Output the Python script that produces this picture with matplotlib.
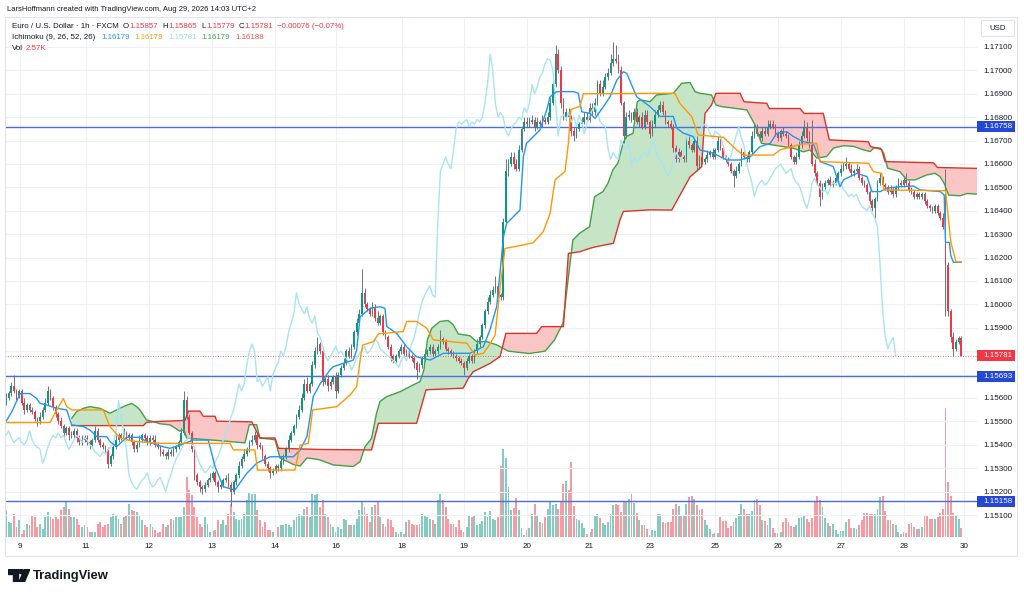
#!/usr/bin/env python3
"""EUR/USD 1h candles with Ichimoku (9, 26, 52, 26) and volume, TradingView look."""

import numpy as np
import matplotlib
matplotlib.use("Agg")
import matplotlib.pyplot as plt
from matplotlib.patches import Rectangle, Polygon, Circle
from matplotlib.ticker import FormatStrFormatter

plt.rcParams["font.family"] = ["Liberation Sans", "DejaVu Sans"]

# prices are kept as pips above 1.1500 (1 pip = 0.0001), one value per hourly bar
BASE = 1.15
PIP = 0.0001

first_open = 58
close_pips = [
    60, 62, 65, 63, 61, 63, 58, 55, 57, 55, 54, 51, 50, 52, 55, 58, 63, 60, 56, 53, 50, 48, 45, 47, 44,
    44, 46, 43, 41, 42, 43, 41, 40, 42, 46, 42, 40, 39, 38, 32, 35, 39, 42, 44, 43, 45, 43, 44, 41, 38,
    40, 42, 44, 43, 41, 43, 42, 40, 39, 37, 36, 35, 37, 36, 38, 39, 41, 45, 59, 52, 45, 38, 27, 24, 22,
    21, 23, 25, 26, 28, 24, 22, 23, 25, 26, 23, 20, 24, 27, 31, 34, 36, 38, 41, 42, 44, 40, 39, 35, 32,
    30, 28, 29, 31, 30, 33, 35, 38, 42, 45, 48, 52, 55, 60, 66, 63, 66, 74, 80, 83, 80, 67, 68, 65, 67,
    69, 63, 70, 73, 75, 80, 78, 82, 88, 92, 96, 105, 100, 98, 96, 99, 94, 92, 95, 88, 86, 82, 78, 76, 78,
    80, 82, 79, 80, 78, 77, 75, 72, 74, 77, 79, 80, 82, 79, 80, 82, 85, 84, 81, 80, 79, 78, 77, 76, 75,
    73, 76, 78, 76, 80, 83, 86, 91, 97, 101, 104, 106, 108, 104, 103, 135, 157, 160, 163, 160, 158, 166, 175, 178, 177,
    178, 179, 176, 178, 177, 179, 178, 180, 186, 194, 207, 200, 186, 180, 182, 180, 174, 172, 175, 177, 178, 180, 179, 184, 182,
    186, 194, 190, 193, 197, 199, 203, 205, 204, 200, 186, 172, 180, 181, 179, 182, 178, 180, 176, 181, 178, 173, 177, 181, 183,
    185, 182, 178, 177, 176, 167, 162, 165, 163, 162, 170, 168, 166, 170, 159, 163, 161, 162, 164, 165, 163, 166, 170, 167, 163,
    162, 160, 157, 155, 157, 160, 165, 163, 162, 165, 172, 175, 173, 171, 174, 173, 176, 177, 176, 173, 171, 174, 173, 172, 168,
    163, 161, 163, 168, 172, 176, 171, 168, 160, 156, 152, 146, 150, 152, 153, 151, 152, 154, 156, 158, 159, 160, 158, 156, 157,
    158, 154, 152, 151, 148, 144, 141, 145, 152, 154, 151, 150, 148, 149, 147, 150, 152, 151, 153, 152, 149, 148, 146, 147, 146,
    147, 144, 142, 141, 140, 142, 139, 137, 133, 117, 97, 86, 81, 84, 85.7, 78.1,
]
# wick length above / below the candle body, pips
wick_up = [
    2, 1, 2, 5, 1, 1, 1, 2, 1, 1, 1, 1, 1, 2, 1, 2, 2, 1, 1, 1, 1, 2, 1, 1, 1,
    2, 1, 1, 1, 2, 1, 1, 1, 1, 2, 1, 1, 1, 1, 1, 1, 1, 2, 1, 1, 2, 1, 1, 1, 1,
    1, 2, 1, 1, 1, 1, 1, 2, 1, 1, 1, 1, 1, 1, 1, 1, 1, 2, 4, 2, 1, 1, 1, 1, 1,
    1, 1, 1, 2, 1, 1, 1, 1, 1, 1, 2, 1, 1, 1, 2, 1, 2, 1, 1, 2, 2, 1, 1, 1, 1,
    1, 1, 1, 1, 1, 2, 1, 1, 2, 1, 1, 1, 2, 2, 2, 3, 1, 2, 2, 3, 1, 2, 1, 2, 1,
    1, 2, 1, 1, 2, 1, 2, 1, 1, 2, 2, 10, 2, 1, 1, 2, 1, 3, 1, 1, 1, 1, 1, 1, 1,
    1, 1, 1, 1, 1, 1, 1, 1, 1, 1, 2, 1, 1, 1, 1, 1, 4, 1, 1, 1, 1, 1, 1, 1, 1,
    1, 1, 1, 1, 1, 2, 1, 1, 1, 2, 2, 2, 4, 1, 1, 2, 5, 2, 2, 2, 2, 2, 1, 2, 2,
    2, 2, 1, 2, 1, 2, 1, 2, 2, 2, 4, 2, 2, 2, 2, 2, 1, 2, 2, 1, 2, 2, 2, 2, 2,
    2, 2, 2, 3, 2, 2, 4, 7, 6, 3, 2, 1, 2, 2, 1, 2, 2, 1, 2, 2, 2, 1, 2, 2, 2,
    2, 2, 1, 1, 2, 1, 1, 2, 1, 1, 2, 2, 1, 2, 2, 1, 2, 1, 2, 1, 2, 1, 2, 1, 1,
    1, 1, 1, 1, 2, 1, 2, 1, 1, 1, 2, 2, 2, 1, 2, 2, 3, 2, 2, 1, 1, 1, 2, 1, 1,
    1, 1, 2, 2, 2, 3, 2, 3, 11, 2, 1, 1, 2, 1, 1, 2, 1, 1, 1, 2, 2, 3, 1, 2, 1,
    2, 1, 1, 1, 1, 1, 1, 1, 1, 2, 1, 1, 1, 2, 1, 1, 2, 1, 2, 3, 1, 1, 1, 1, 1,
    1, 1, 1, 1, 1, 1, 1, 1, 2, 25, 1, 1, 2, 1, 1, 0.8,
]
wick_dn = [
    1, 1, 1, 1, 2, 1, 1, 2, 1, 1, 1, 1, 2, 1, 1, 1, 1, 1, 1, 1, 1, 1, 2, 1, 2,
    1, 1, 2, 1, 1, 1, 1, 2, 1, 1, 1, 1, 1, 1, 2, 1, 1, 1, 1, 1, 1, 1, 1, 1, 1,
    1, 1, 1, 1, 1, 1, 1, 1, 1, 2, 1, 1, 1, 1, 1, 1, 1, 1, 1, 1, 1, 1, 2, 1, 2,
    2, 1, 1, 1, 1, 1, 2, 1, 1, 1, 1, 6, 1, 1, 1, 1, 1, 1, 1, 1, 1, 2, 1, 1, 1,
    1, 2, 1, 1, 1, 1, 1, 1, 1, 1, 1, 1, 1, 1, 1, 1, 1, 1, 1, 1, 1, 2, 1, 2, 1,
    1, 3, 1, 1, 1, 1, 1, 1, 1, 1, 1, 1, 1, 1, 1, 1, 1, 1, 1, 1, 1, 1, 2, 1, 1,
    1, 1, 1, 1, 1, 1, 2, 4, 1, 1, 1, 1, 1, 1, 1, 1, 1, 1, 1, 1, 1, 1, 1, 1, 1,
    3, 1, 1, 1, 1, 1, 1, 1, 1, 1, 1, 1, 1, 1, 1, 1, 1, 2, 1, 2, 1, 1, 1, 1, 1,
    1, 1, 2, 1, 1, 1, 1, 1, 1, 1, 1, 1, 2, 1, 1, 1, 2, 2, 1, 1, 1, 1, 1, 1, 1,
    1, 1, 1, 1, 1, 1, 1, 1, 1, 1, 1, 3, 1, 1, 1, 1, 1, 2, 1, 1, 1, 2, 1, 1, 1,
    1, 1, 1, 1, 1, 2, 1, 1, 1, 1, 1, 1, 1, 1, 2, 1, 1, 1, 1, 1, 1, 1, 1, 1, 1,
    1, 1, 1, 5, 1, 1, 1, 1, 1, 1, 1, 1, 1, 1, 1, 1, 1, 1, 1, 1, 1, 1, 1, 1, 1,
    1, 1, 1, 1, 1, 1, 1, 1, 1, 1, 1, 4, 1, 1, 1, 1, 1, 1, 1, 1, 1, 1, 1, 1, 1,
    1, 1, 1, 1, 1, 1, 1, 4, 1, 1, 1, 1, 1, 1, 1, 1, 1, 1, 1, 1, 1, 1, 1, 1, 1,
    1, 1, 1, 1, 1, 1, 1, 1, 1, 22, 2, 2, 3, 1, 1, 0.2,
]
volume = [
    27, 15, 14, 23, 10, 17, 3, 7, 13, 12, 22, 20, 10, 13, 8, 20, 25, 20, 18, 20, 18, 27, 30, 35, 28,
    20, 20, 18, 12, 10, 12, 10, 5, 5, 5, 13, 15, 10, 12, 13, 20, 23, 22, 18, 13, 20, 22, 33, 27, 26,
    25, 22, 17, 12, 10, 13, 10, 7, 4, 5, 13, 10, 12, 18, 17, 20, 20, 20, 30, 60, 47, 42, 30, 20, 13,
    10, 20, 13, 5, 6, 7, 17, 13, 17, 12, 23, 33, 25, 18, 17, 18, 23, 37, 45, 43, 43, 27, 17, 10, 15,
    7, 7, 5, 7, 10, 12, 12, 13, 12, 10, 17, 20, 23, 22, 28, 30, 20, 43, 42, 43, 30, 37, 23, 20, 13,
    10, 5, 10, 8, 18, 17, 12, 12, 12, 18, 27, 35, 30, 23, 15, 30, 32, 35, 20, 13, 10, 18, 17, 10, 5,
    3, 5, 3, 15, 17, 13, 12, 12, 13, 23, 22, 20, 18, 17, 13, 37, 43, 37, 30, 18, 13, 13, 10, 17, 7,
    5, 10, 22, 20, 21, 12, 13, 16, 25, 20, 26, 18, 17, 20, 71, 88, 79, 50, 27, 29, 39, 27, 9, 2, 7,
    9, 23, 33, 21, 15, 14, 20, 28, 35, 32, 33, 28, 35, 53, 56, 47, 75, 31, 18, 17, 14, 9, 3, 5, 8,
    21, 23, 19, 14, 12, 15, 23, 32, 33, 32, 25, 36, 36, 38, 43, 34, 24, 17, 12, 12, 8, 2, 7, 6, 23,
    23, 15, 14, 15, 15, 28, 33, 31, 21, 21, 33, 40, 41, 38, 32, 27, 28, 17, 12, 8, 3, 4, 4, 20, 16,
    16, 9, 11, 15, 19, 23, 33, 28, 23, 23, 26, 37, 38, 32, 17, 16, 12, 19, 9, 4, 4, 5, 15, 19, 15,
    11, 10, 12, 19, 20, 21, 18, 15, 19, 36, 41, 37, 30, 19, 14, 11, 13, 7, 3, 6, 6, 15, 18, 9, 9,
    8, 12, 17, 24, 24, 23, 23, 23, 28, 40, 41, 26, 17, 17, 13, 12, 5, 3, 5, 4, 13, 14, 10, 8, 8,
    10, 21, 22, 18, 18, 18, 20, 24, 28, 129, 55, 41, 24, 21, 18, 9,
]

# Ichimoku lines as (bar, pips)
tenkan = [
    (0, 50), (2.2, 54.1), (5.4, 61.9), (9.2, 61.9), (11.7, 59.8), (13, 57.7), (15.5, 57), (19.4, 55.6),
    (23.2, 54.9), (25.1, 48.5), (29.6, 47.8), (32.1, 46.3), (34.7, 43.5), (38.5, 43.5), (39.8, 41.3),
    (42.3, 39.2), (43.6, 40.6), (46.1, 43.2), (51.2, 43.2), (53.7, 41.3), (56.3, 40.6), (58.8, 39.5),
    (62.7, 38.5), (66.5, 39.9), (71.6, 42), (77.3, 42), (79.9, 30.6), (83, 22.1), (87.5, 20.7), (92, 27.8),
    (95.8, 32.1), (100.9, 34.9), (109.8, 34.9), (112.4, 37.8), (115, 43.5), (117.4, 60.6), (120, 66),
    (123.8, 72), (125.1, 73.4), (132.7, 76.2), (134, 80.5), (135.3, 94.7), (139.1, 98.3), (142.9, 99),
    (144.8, 98.3), (145.5, 90.5), (149.3, 87.6), (153.1, 81.9), (156.9, 77.6), (162.1, 76.2), (167.1, 79.1),
    (177.3, 79.1), (182.4, 81.9), (184.9, 89), (187.5, 99), (190.1, 128.9), (191.3, 134.6), (196.4, 140.3),
    (197.7, 163.1), (198.9, 168.8), (204, 174.5), (206.6, 183), (207.9, 188.7), (210.4, 190.9),
    (216.8, 190.9), (218.7, 190.2), (220, 182.3), (223.2, 181.6), (225.1, 179.5), (228.3, 184.5),
    (230.8, 188.7), (233.4, 195.8), (235.9, 199.4), (237.2, 198.7), (239.1, 193.7), (241, 188.7),
    (246.1, 184.5), (250, 180.3), (255, 180.3), (256.3, 175.3), (258.8, 173.2), (262.6, 171.7), (265.2, 166),
    (270.3, 164.6), (275.4, 161.7), (280.5, 161.7), (284.4, 163.1), (288.1, 167.4), (292, 168.8),
    (294.5, 173.1), (298.3, 173.8), (300.9, 171.7), (304.7, 169.5), (308.5, 168.8), (311.1, 161),
    (316.1, 158.9), (318.7, 150.3), (320, 153.2), (325.1, 156), (329, 154.6), (330.9, 148.2), (334.1, 148.2),
    (336.5, 149.6), (341.6, 150.3), (346.8, 150.6), (349.3, 148.9), (357, 148.2), (358.5, 146.8),
    (359, 126.5), (360.5, 126.5), (361, 121), (362, 118), (365, 118),
]
kijun = [
    (0, 49.5), (16.8, 49.5), (18.7, 53.5), (21.9, 59.8), (23.2, 56.3), (25.1, 54.9), (37.2, 54.9),
    (39.7, 47.8), (43.6, 42.9), (48.7, 41.5), (58.8, 40.6), (85.6, 40.6), (86.9, 37.8), (95.1, 37.8),
    (96.1, 29.2), (110.4, 29.2), (112.4, 39.9), (115.5, 40.6), (117.2, 54.9), (126.4, 56.3), (131.5, 61.3),
    (134, 64.9), (135.5, 77.7), (136.3, 82.6), (140.4, 84.1), (142.3, 87.4), (151.8, 88.4), (153.1, 92.7),
    (156.9, 92.7), (160.8, 89.8), (163.3, 84.8), (176.1, 83.4), (179.2, 78.4), (182.4, 79.1), (184.3, 82),
    (186.9, 86.9), (187.5, 93.3), (189, 109), (190.7, 123.9), (197.7, 125.4), (201.5, 126.4),
    (205.3, 131.1), (207.9, 138.9), (209.8, 153.2), (213.6, 156.8), (214.9, 168.9), (215.8, 183.2),
    (219.3, 184.6), (220.6, 190), (255.6, 190.2), (257.5, 185.9), (262, 180.3), (264.5, 172.4),
    (274.1, 171.4), (279.2, 166), (281.8, 163.8), (293.2, 163.8), (295.8, 166), (304, 168.5),
    (309.8, 168.8), (311.1, 161), (329.6, 160.3), (331.5, 156.7), (334.6, 156), (335.5, 148.9),
    (359, 148.6), (361, 126.8), (363, 118.2), (365, 118.2),
]
span_a = [
    (25.1, 51.3), (27, 54.2), (29.6, 55.6), (32.1, 56.3), (35.9, 55.6), (39.7, 53.5), (42.3, 54.9),
    (44.8, 56.3), (48, 57.7), (49.9, 56.3), (51.2, 54.9), (53.7, 50.6), (56.3, 49.9), (58.8, 49),
    (62.7, 48.5), (66.5, 45.8), (68, 46.5), (69, 42.9), (84.4, 41.5), (91.3, 40.8), (93, 48.6),
    (95.8, 48.6), (97, 42.9), (102.8, 42.2), (104.7, 34.4), (109.8, 31.6), (112.4, 30.9), (115, 34.4),
    (118.8, 33.8), (120, 33.5), (125.1, 31.4), (132.7, 30.7), (135.3, 32.8), (137.2, 39.2), (139.7, 42.8),
    (141.6, 53.5), (142.9, 58.5), (145.5, 60.6), (150.6, 62.7), (155.6, 65.6), (158.2, 67), (159.7, 72),
    (161, 84.8), (162.7, 89.8), (165.8, 92.7), (169, 93.1), (170.9, 91.3), (172.8, 87.4), (177.3, 86.6),
    (179.8, 84.1), (183.7, 84.1), (187.5, 82.7), (192, 80), (200, 79), (206, 80), (209.6, 84.8),
    (212.8, 91.9), (216.6, 127.5), (219.2, 130.4), (223, 133.2), (224.9, 146), (228.1, 148.2),
    (230, 151.7), (231.9, 157.5), (233.8, 160.3), (235.8, 168.8), (237, 171.7), (239.6, 173.1),
    (241.2, 186.5), (242.3, 187.4), (246.1, 186.6), (248.6, 189.5), (255, 190.2), (258.2, 194.5),
    (261.4, 194.8), (263.3, 190.9), (265.2, 190.2), (269.6, 189.5), (271.3, 185.2), (273.5, 184.5),
    (283.1, 183.1), (286.2, 176.7), (288.7, 168.8), (293.2, 168.1), (300.9, 166.7), (304.7, 165.2),
    (307.2, 166), (309.8, 162.5), (313.6, 163.2), (316.2, 166.8), (320, 167.8), (323.9, 167.5),
    (327.7, 166), (330.2, 165.3), (331.8, 167), (334.1, 166.8), (335.4, 164.6), (336.9, 158.2),
    (341.6, 156.7), (344.2, 153.2), (347.4, 153.2), (351.8, 155.3), (355, 156), (356.9, 154.6),
    (358.5, 151.7), (360.2, 146.7), (364.6, 146.4), (367.2, 147.4), (371.5, 147.1),
]
span_b = [
    (25.1, 48.2), (52.5, 48.2), (53.7, 49.6), (58.8, 50), (68.4, 50.4), (69.7, 54.4), (74.1, 54.4),
    (75.4, 52.2), (79.9, 52.2), (80.5, 50.1), (93.9, 49.8), (97, 42.9), (102.8, 42.9), (104.1, 38.5),
    (120, 38), (139.7, 37.8), (142.3, 49.2), (156.9, 49.2), (160.5, 63.5), (174.7, 64.2), (176.7, 68.5),
    (178.6, 71.3), (181.2, 72.7), (185, 74.8), (188.8, 77.7), (191, 87.6), (202.8, 87.6), (204.7, 90.5),
    (213, 90.5), (214.9, 121.8), (219.3, 122.5), (223.2, 124), (225.7, 124.7), (232.1, 126.1),
    (234.6, 136.1), (235.9, 139.7), (246.1, 140.4), (254.4, 140.3), (261.4, 154.5), (265.8, 158.8),
    (267.1, 181.6), (269.6, 185.2), (271.3, 190.2), (280.5, 190.2), (282, 186.6), (290.7, 185.9),
    (291.7, 183.7), (303.4, 183.7), (305, 181.6), (312.3, 181.6), (314.6, 170.3), (329.5, 169.5),
    (330.4, 167.4), (334.6, 166.2), (335.9, 161), (354.4, 160.5), (355.9, 158.5), (371.5, 158.1),
]

levels = [1.16758, 1.15693, 1.15158]
# axis ticks; 1.157 and 1.158 sit under the axis tags in the screenshot, so they carry no label
price_ticks = [1.151, 1.152, 1.153, 1.154, 1.155, 1.156, 1.159, 1.160, 1.161, 1.162,
               1.163, 1.164, 1.165, 1.166, 1.167, 1.168, 1.169, 1.170, 1.171]
grid_prices = [1.157, 1.158]
day_bars = [5.4, 30.6, 54.6, 78.7, 102.8, 126.1, 151.3, 175, 199, 222.8, 246, 271, 295, 319, 343, 366]
day_labels = ["9", "11", "12", "13", "14", "16", "18", "19", "20", "21", "23", "25", "26", "27", "28", "30"]

TEXT = "#131722"
UP, DOWN, WICK = "#089981", "#f23645", "#6f727d"
VOL_UP, VOL_DOWN = "#84ccc0", "#f89aa2"
TENKAN, KIJUN, CHIKOU = "#2196f3", "#ff9800", "#a8e4f1"
SPAN_A, SPAN_B = "#43a047", "#d9342b"
CLOUD_UP, CLOUD_DOWN = "#c6e5c7", "#f9c5c5"
LEVEL, LEVEL_BOX = "#4a6de5", "#2447d4"
GRID = "#eef0f5"

W, H = 1024, 594


def to_price(pips):
    return BASE + PIP * np.asarray(pips, dtype=float)


def main():
    n = len(close_pips)
    assert len(wick_up) == n and len(wick_dn) == n and len(volume) == n

    close = to_price(close_pips)
    opens = np.concatenate([[to_price(first_open)], close[:-1]])
    high = np.maximum(opens, close) + PIP * np.array(wick_up, float)
    low = np.minimum(opens, close) - PIP * np.array(wick_dn, float)
    bars = np.arange(n)
    rising = close >= opens

    fig = plt.figure(figsize=(W / 100, H / 100), dpi=100)
    rect = [5 / W, 57 / H, 972 / W, 520 / H]
    ax_vol = fig.add_axes(rect)
    ax = fig.add_axes(rect, sharex=ax_vol)
    ax.patch.set_alpha(0)

    # volume overlay at the bottom of the pane
    ax_vol.bar(bars, volume, width=0.72, color=np.where(rising, VOL_UP, VOL_DOWN), linewidth=0)
    ax_vol.set_ylim(0, max(volume) * 4.03)
    ax_vol.axis("off")

    ax.set_xlim(-0.38, 371.04)
    ax.set_ylim(1.15006, 1.17228)

    ax.set_yticks(price_ticks)
    ax.yaxis.set_major_formatter(FormatStrFormatter("%.5f"))
    ax.yaxis.tick_right()
    ax.set_xticks(day_bars, day_labels)
    ax.tick_params(axis="both", length=0, labelsize=5.8, labelcolor=TEXT)
    ax.tick_params(axis="y", pad=4.3)
    ax.tick_params(axis="x", pad=4.6)
    for sp in ax.spines.values():
        sp.set_visible(False)
    ax.grid(True, color=GRID, lw=0.8)
    ax.set_axisbelow(True)
    for gp in grid_prices:
        ax.axhline(gp, color=GRID, lw=0.8, zorder=0.5)

    # Ichimoku cloud
    a = np.array(span_a)
    b = np.array(span_b)
    xs = np.union1d(a[:, 0], b[:, 0])
    ya = to_price(np.interp(xs, a[:, 0], a[:, 1]))
    yb = to_price(np.interp(xs, b[:, 0], b[:, 1]))
    ax.fill_between(xs, ya, yb, where=ya >= yb, interpolate=True, color=CLOUD_UP, lw=0, zorder=1.2)
    ax.fill_between(xs, ya, yb, where=ya < yb, interpolate=True, color=CLOUD_DOWN, lw=0, zorder=1.2)

    # horizontal levels and last price
    for lv in levels:
        ax.axhline(lv, color=LEVEL, lw=1.0, zorder=1.6)
    last = close[-1]
    ax.axhline(last, color=DOWN, lw=0.6, ls=(0, (1, 2)), zorder=1.6)

    # candles
    ax.vlines(bars, low, high, color=WICK, lw=0.7, zorder=2)
    body = np.maximum(np.abs(close - opens), 0.000015)
    ax.bar(bars, body, bottom=np.minimum(opens, close), width=0.66,
           color=np.where(rising, UP, DOWN), linewidth=0, zorder=2.1)

    # Ichimoku lines
    ax.plot(a[:, 0], to_price(a[:, 1]), color=SPAN_A, lw=1.0, zorder=2.4)
    ax.plot(b[:, 0], to_price(b[:, 1]), color=SPAN_B, lw=1.0, zorder=2.4)
    ax.plot(bars[:-25], close[25:], color=CHIKOU, lw=1.0, zorder=2.5)
    t = np.array(tenkan)
    ax.plot(t[:, 0], to_price(t[:, 1]), color=TENKAN, lw=1.0, zorder=2.6)
    k = np.array(kijun)
    ax.plot(k[:, 0], to_price(k[:, 1]), color=KIJUN, lw=1.0, zorder=2.7)

    # price tags on the axis
    box_h = 11 * (1.17228 - 1.15006) / 520
    box_w = 38 / 972
    tr = ax.get_yaxis_transform()
    for price, col in [(levels[0], LEVEL_BOX), (levels[1], LEVEL_BOX), (levels[2], LEVEL_BOX), (last, DOWN)]:
        ax.add_patch(Rectangle((1.0, price - box_h / 2), box_w, box_h, transform=tr,
                               facecolor=col, edgecolor="none", clip_on=False, zorder=6))
        ax.text(1.0 + 6 / 972, price, f"{price:.5f}", transform=tr, color="white",
                fontsize=5.8, va="center", ha="left", zorder=7, clip_on=False)

    # frame and USD tag
    fig.add_artist(Rectangle((5 / W, 1 - 556 / H), 1012 / W, 539 / H, transform=fig.transFigure,
                             fill=False, edgecolor="#e0e3eb", lw=0.8))
    fig.add_artist(Rectangle((981 / W, 1 - 36 / H), 33 / W, 16 / H, transform=fig.transFigure,
                             facecolor="white", edgecolor="#e0e3eb", lw=0.8))
    fig.text(997.5 / W, 1 - 28 / H, "USD", fontsize=5.6, color=TEXT, ha="center", va="center")

    # legend rows, laid out left to right with measured widths
    renderer = fig.canvas.get_renderer()

    def row(y, parts, x=12, size=5.7):
        for s, col, gap in parts:
            txt = fig.text(x / W, 1 - y / H, s, color=col, fontsize=size, ha="left", va="center")
            x = txt.get_window_extent(renderer).x1 + gap

    fig.text(7 / W, 1 - 9.5 / H, "LarsHoffmann created with TradingView.com, Aug 29, 2026 14:03 UTC+2",
             fontsize=5.5, color=TEXT, ha="left", va="center")
    row(26.5, [("Euro / U.S. Dollar · 1h · FXCM", TEXT, 4),
               ("O", TEXT, 0.6), ("1.15857", DOWN, 4),
               ("H", TEXT, 0.6), ("1.15865", DOWN, 4),
               ("L", TEXT, 0.6), ("1.15779", DOWN, 4),
               ("C", TEXT, 0.6), ("1.15781", DOWN, 4),
               ("−0.00076 (−0.07%)", DOWN, 0)])
    row(37.5, [("Ichimoku (9, 26, 52, 26)", TEXT, 6),
               ("1.16179", TENKAN, 5), ("1.16179", KIJUN, 5), ("1.15781", "#93dbea", 5),
               ("1.16179", SPAN_A, 5), ("1.16188", "#ef5350", 0)])
    row(48, [("Vol", TEXT, 3), ("2.57K", DOWN, 0)])

    # TradingView wordmark
    lax = fig.add_axes([8 / W, 1 - 582 / H, 22 / W, 13 / H])
    lax.set_xlim(0, 22)
    lax.set_ylim(0, 13)
    lax.axis("off")
    lax.add_patch(Polygon([(0, 13), (10, 13), (10, 0.5), (5, 0.5), (5, 8.3), (0, 8.3)], color=TEXT))
    lax.add_patch(Circle((13.2, 10.6), 2.3, color=TEXT))
    lax.add_patch(Polygon([(11.2, 0.5), (16.6, 13), (22, 13), (16.6, 0.5)], color=TEXT))
    fig.text(33 / W, 1 - 575.5 / H, "TradingView", fontsize=9.4, fontweight="bold",
             color=TEXT, ha="left", va="center")

    fig.savefig("out.png", dpi=100, facecolor="white")


if __name__ == "__main__":
    main()
